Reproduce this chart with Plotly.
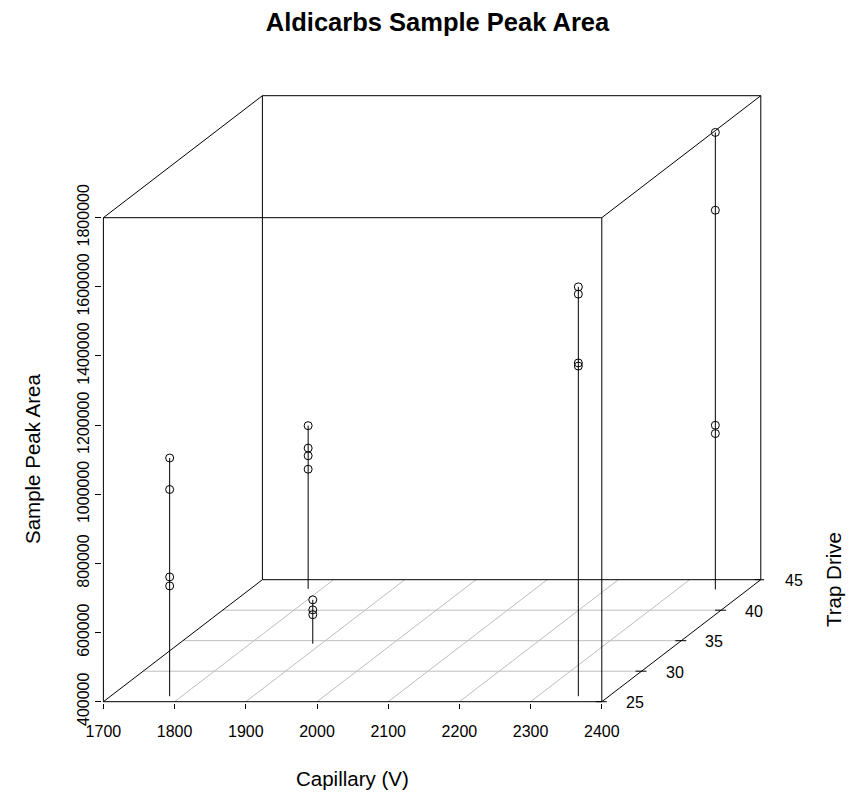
import plotly.graph_objects as go

# ---- data: one entry per run ----
capillary_v = [1783, 1783, 1783, 1783,
               1781, 1781, 1781, 1781,
               1888, 1888, 1888,
               2357, 2357, 2357, 2357,
               2354, 2354, 2354, 2354]
trap_drive = [25.9, 25.9, 25.9, 25.9,
              43.5, 43.5, 43.5, 43.5,
              34.5, 34.5, 34.5,
              25.9, 25.9, 25.9, 25.9,
              43.4, 43.4, 43.4, 43.4]
peak_area = [1089000, 998000, 745000, 719000,
             872000, 807000, 785000, 746000,
             527000, 498000, 484000,
             1584000, 1563000, 1364000, 1355000,
             1722000, 1497000, 875000, 851000]

cap_ticks = [1700, 1800, 1900, 2000, 2100, 2200, 2300, 2400]
trap_ticks = [25, 30, 35, 40, 45]
area_ticks = [400000, 600000, 800000, 1000000, 1200000, 1400000, 1600000, 1800000]

# ---- oblique projection (front face = the 2-D axes, depth drawn diagonally) ----
W, H = 852, 794
ML, MR, MT, MB = 102, 88, 94, 91
PX_PER_V = 498.4 / (cap_ticks[-1] - cap_ticks[0])
PX_PER_AREA = 484.0 / (area_ticks[-1] - area_ticks[0])
DEPTH_PX_X, DEPTH_PX_Y = 159.0, 122.0
DEPTH_CAP = DEPTH_PX_X / PX_PER_V
DEPTH_AREA = DEPTH_PX_Y / PX_PER_AREA

CAP0, CAP1 = cap_ticks[0], cap_ticks[-1]
T0, T1 = trap_ticks[0], trap_ticks[-1]
Z0, Z1 = area_ticks[0], area_ticks[-1]


def project(cap, trap, area):
    f = (trap - T0) / (T1 - T0)
    return cap + f * DEPTH_CAP, area + f * DEPTH_AREA


def seg_trace(segments, color, width=1):
    xs, ys = [], []
    for (a, b) in segments:
        p, q = project(*a), project(*b)
        xs += [p[0], q[0], None]
        ys += [p[1], q[1], None]
    return go.Scatter(x=xs, y=ys, mode="lines", hoverinfo="skip",
                      line=dict(color=color, width=width), showlegend=False)


fig = go.Figure()

# floor grid
grid = []
for t in trap_ticks[1:-1]:
    grid.append(((CAP0, t, Z0), (CAP1, t, Z0)))
for c in cap_ticks[1:-1]:
    grid.append(((c, T0, Z0), (c, T1, Z0)))
fig.add_trace(seg_trace(grid, "#bebebe"))

# box edges
box = [
    ((CAP0, T0, Z0), (CAP1, T0, Z0)), ((CAP0, T0, Z1), (CAP1, T0, Z1)),
    ((CAP0, T0, Z0), (CAP0, T0, Z1)), ((CAP1, T0, Z0), (CAP1, T0, Z1)),
    ((CAP0, T1, Z0), (CAP1, T1, Z0)), ((CAP0, T1, Z1), (CAP1, T1, Z1)),
    ((CAP0, T1, Z0), (CAP0, T1, Z1)), ((CAP1, T1, Z0), (CAP1, T1, Z1)),
    ((CAP0, T0, Z0), (CAP0, T1, Z0)), ((CAP0, T0, Z1), (CAP0, T1, Z1)),
    ((CAP1, T0, Z0), (CAP1, T1, Z0)), ((CAP1, T0, Z1), (CAP1, T1, Z1)),
]
fig.add_trace(seg_trace(box, "black"))

# trap drive axis ticks (short horizontal marks on the right floor edge)
tick_l, tick_r = 6 / PX_PER_V, 5 / PX_PER_V
tx, ty = [], []
for t in trap_ticks:
    px, py = project(CAP1, t, Z0)
    tx += [px - tick_l, px + tick_r, None]
    ty += [py, py, None]
fig.add_trace(go.Scatter(x=tx, y=ty, mode="lines", hoverinfo="skip",
                         line=dict(color="black", width=1), showlegend=False))

# vertical drop lines to the floor, one per (capillary, trap drive) setting
tallest = {}
for c, t, z in zip(capillary_v, trap_drive, peak_area):
    tallest[(c, t)] = max(z, tallest.get((c, t), Z0))
drops = [((c, t, Z0), (c, t, z)) for (c, t), z in tallest.items()]
fig.add_trace(seg_trace(drops, "black"))

# points
pts = [project(c, t, z) for c, t, z in zip(capillary_v, trap_drive, peak_area)]
fig.add_trace(go.Scatter(
    x=[p[0] for p in pts], y=[p[1] for p in pts], mode="markers",
    marker=dict(symbol="circle-open", size=8, color="black", line=dict(width=1)),
    customdata=list(zip(capillary_v, trap_drive, peak_area)),
    hovertemplate="Capillary: %{customdata[0]}<br>Trap Drive: %{customdata[1]}"
                  "<br>Peak Area: %{customdata[2]}<extra></extra>",
    showlegend=False))

FONT = "Liberation Sans, Arial, sans-serif"

# trap drive tick labels
for t in trap_ticks:
    px, py = project(CAP1, t, Z0)
    fig.add_annotation(x=px, y=py, xref="x", yref="y", text=str(t), showarrow=False,
                       xanchor="center", yanchor="middle",
                       xshift=33, yshift=-1, font=dict(family=FONT, size=16, color="black"))

plot_w = W - ML - MR
plot_h = H - MT - MB
x_lo = CAP0 - 1.4 / PX_PER_V
x_hi = x_lo + plot_w / PX_PER_V
y_lo = Z0 - 1.3 / PX_PER_AREA
y_hi = y_lo + plot_h / PX_PER_AREA


def paper_x(px):
    return (px - ML) / plot_w


def paper_y(py):
    return (H - MB - py) / plot_h


axis_title_font = dict(family=FONT, size=20.5, color="black")
fig.add_annotation(x=paper_x(352.5), y=paper_y(778), xref="paper", yref="paper",
                   xanchor="center", yanchor="middle",
                   text="Capillary (V)", showarrow=False, font=axis_title_font)
fig.add_annotation(x=paper_x(32), y=paper_y(459), xref="paper", yref="paper",
                   xanchor="center", yanchor="middle",
                   text="Sample Peak Area", showarrow=False, textangle=-90,
                   font=axis_title_font)
fig.add_annotation(x=paper_x(833), y=paper_y(580), xref="paper", yref="paper",
                   xanchor="center", yanchor="middle",
                   text="Trap Drive", showarrow=False, textangle=-90,
                   font=axis_title_font)

fig.update_layout(
    width=W, height=H,
    margin=dict(l=ML, r=MR, t=MT, b=MB),
    paper_bgcolor="white", plot_bgcolor="white",
    title=dict(text="<b>Aldicarbs Sample Peak Area</b>", x=437.5 / W, xref="container",
               y=1 - 22 / H, yref="container", xanchor="center", yanchor="middle",
               font=dict(family=FONT, size=25.5, color="black")),
    xaxis=dict(range=[x_lo, x_hi], tickvals=cap_ticks, ticktext=[str(v) for v in cap_ticks],
               ticks="outside", ticklen=5, tickcolor="black", tickwidth=1,
               showgrid=False, zeroline=False, showline=False,
               ticklabelstandoff=9,
               tickfont=dict(family=FONT, size=16, color="black")),
    yaxis=dict(range=[y_lo, y_hi], tickvals=area_ticks, ticktext=[str(v) for v in area_ticks],
               ticks="outside", ticklen=6, tickcolor="black", tickwidth=1,
               tickangle=-90,
               showgrid=False, zeroline=False, showline=False,
               tickfont=dict(family=FONT, size=16, color="black")),
)

fig.write_html("out.html")
